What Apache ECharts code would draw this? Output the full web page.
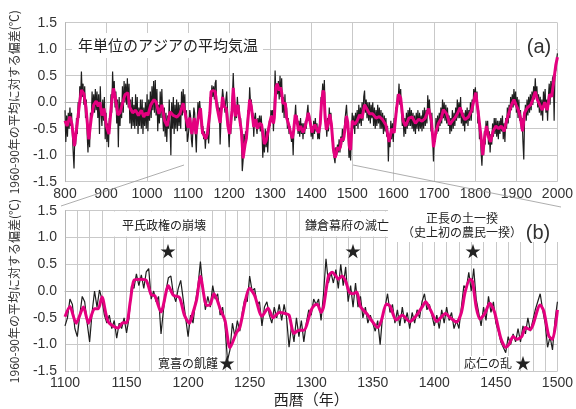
<!DOCTYPE html>
<html><head><meta charset="utf-8">
<script src="https://cdn.jsdelivr.net/npm/echarts@6/dist/echarts.min.js"></script>
<style>html,body{margin:0;padding:0;background:#fff}#c{width:576px;height:409px}</style>
</head><body><div id="c"></div>
<script>
// Annual (2-year sampled) anomaly series, 800–2000
const annualStartYear = 800;
const annualStepYears = 2;
const annualValues = [
-0.15,-0.75,-0.25,-0.65,-0.2, -0.5,-0.1,-0.45,-0.2,-0.6, -0.95,-1.25,-0.6,-0.8,-0.3, -0.6,0.0,-0.3,0.3,0.05, 0.58,0.1,0.35,-0.05,0.3, -0.3,0.05,-0.6,-0.95,-0.45, -0.85,-0.2,-0.4,0.2,-0.2, 0.15,-0.2,0.25,-0.15,0.2, -0.3,0.15,-0.6,0.3,-0.2, -0.45,0.05,-0.35,0.1,-0.7,
-0.2,-0.75,-0.4,-0.85,-0.3, -0.5,0.15,-0.2,0.58,0.1, 0.4,-0.1,0.2,-0.4,0.05, -0.85,0.1,-0.45,0.0,-0.3, 0.3,-0.2,0.4,0.0,0.35, -0.05,0.45,-0.1,0.35,-0.4, 0.05,-0.5,0.1,-0.45,-0.05, -0.5,0.15,-0.45,0.1,-0.6, -0.1,-0.45,0.05,-0.5,0.05, -0.6,-0.1,-0.45,0.0,-0.5,
0.15,-0.55,0.05,-0.35,0.2, -0.3,0.3,-0.15,0.4,-0.2, 0.42,-0.25,0.25,-0.55,-0.05, -0.4,0.2,-0.3,0.25,-0.25, -0.55,-0.1,-0.65,-0.2,-0.75, -0.25,-0.5,0.05,-0.45,-1.0, 0.0,-0.5,0.1,-0.6,-0.05, -0.5,0.05,-0.55,0.0,-0.45, -0.05,-0.5,0.2,-0.25,0.25, -0.2,0.15,-0.55,-0.15,-0.75,
-0.65,-0.5,-0.15,-0.25,-0.7, -0.85,-0.45,-0.1,-0.2,-0.6, -0.95,-0.4,0.0,-0.3,0.02, -0.15,-0.45,-0.6,-0.45,-0.7, -0.55,-0.88,-0.6,-0.7,-0.5, -0.78,-0.5,0.1,0.05,0.32, 0.1,0.3,0.05,0.36,0.42, -0.15,0.0,-0.2,-0.1,-0.8, -0.35,0.0,0.25,0.28,-0.05, -0.2,0.05,0.2,-0.15,-0.5,
-0.85,-0.45,-0.6,-0.2,0.1, 0.55,0.05,-0.35,-0.1,-0.3, 0.1,-0.15,-0.05,-0.45,-0.3, -0.65,-1.3,-1.1,-0.6,-0.85, -0.55,-0.75,-0.4,-0.15,-0.2, 0.28,0.0,0.05,-0.25,-0.2, -0.65,-0.3,-0.2,-0.45,-0.6, -0.3,-0.5,-0.25,-0.55,-0.25, -0.5,-1.05,-0.65,-0.95,-0.5, -0.85,-0.55,-0.95,-0.6,-0.35,
-0.45,-0.15,-0.25,-0.15,-0.55, -0.05,0.6,0.15,0.35,0.15, 0.4,0.05,0.5,0.1,0.45, -0.2,0.1,-0.3,0.15,-0.3, -0.1,-0.5,-0.3,-0.6,-0.45, -0.6,-0.75,-0.55,-1.0,-0.45, -0.3,-0.05,-0.4,-0.25,-0.6, -0.35,-0.65,-0.3,-0.6,-0.4, -0.7,-0.4,-0.6,-0.35,-0.5, -0.2,-0.05,-0.35,-0.25,-0.45,
-0.65,-0.45,-0.7,-0.35,-0.6, -0.3,-0.55,-0.4,-0.7,-0.55, -0.7,-0.3,0.1,0.05,0.35, 0.0,0.42,-0.15,-0.4,-0.65, -0.3,-0.55,-0.1,-0.4,-0.2, -0.6,-0.75,-0.95,-1.05,-1.15, -0.85,-1.0,-0.8,-0.95,-0.7, -0.95,-0.65,-0.8,-0.5,-0.75, -0.55,-0.35,-0.2,-0.05,-0.35, -0.6,-1.05,-0.85,-1.1,-0.55,
-0.2,-0.5,-0.25,-0.6,-0.2, -0.45,-0.15,-0.5,-0.05,-0.4, -0.1,-0.45,0.0,-0.35,0.1, 0.22,-0.2,0.05,-0.3,0.0, -0.35,0.0,-0.4,-0.05,-0.3, 0.0,-0.45,-0.1,-0.5,-0.15, -0.45,-0.05,-0.4,-0.1,-0.5, -0.15,-0.5,-0.2,-0.6,-0.25, -0.55,-0.3,-0.65,-0.45,-1.12, -0.6,-0.85,-0.35,-0.7,-0.4,
-0.75,-0.3,-0.55,-0.1,-0.2, 0.15,0.05,0.35,-0.05,0.25, -0.2,-0.45,-0.25,-0.65,-0.3, -0.6,-0.2,-0.5,-0.15,-0.45, -0.1,-0.45,-0.15,-0.5,-0.2, -0.55,-0.25,-0.6,-0.2,-0.5, -0.15,-0.55,-0.2,-0.5,-0.25, -0.55,-0.15,-0.5,-0.1,-0.45, -0.15,-0.4,0.13,-0.2,0.05, -0.3,-0.55,-0.2,-0.7,-1.12,
-0.6,-0.75,-0.3,-0.6,-0.25, -0.55,-0.2,-0.45,-0.1,-0.4, 0.05,-0.3,0.0,-0.35,-0.05, -0.4,-0.1,-0.45,-0.25,-0.6, -0.3,-0.55,-0.15,-0.5,-0.2, -0.45,-0.1,-0.35,0.05,-0.3, 0.0,-0.3,0.1,-0.4,-0.15, -0.45,-0.2,-0.55,-0.15,-0.4, -0.1,-0.45,-0.15,-0.35,0.0, -0.35,0.05,-0.2,0.25,0.05,
0.28,0.0,0.2,-0.4,-0.15, -0.7,-0.45,-0.95,-1.2,-0.8, -1.0,-0.55,-0.8,-0.35,-0.6, -0.35,-0.8,-0.55,-0.95,-0.6, -0.8,-0.4,-0.65,-0.3,-0.6, -0.3,-0.65,-0.35,-0.7,-0.35, -0.6,-0.3,-0.55,-0.25,-0.7, -0.4,-0.75,-0.3,-0.5,-0.1, -0.4,-0.05,-0.3,0.1,-0.15, 0.15,-0.1,0.25,-0.05,0.2,
-0.2,0.1,-0.3,0.05,-0.35, -0.15,-0.5,-0.3,-0.75,-1.08, -0.3,-0.05,-0.35,0.05,-0.25, 0.1,-0.2,0.15,-0.15,0.2, -0.05,0.3,0.05,0.45,0.1, 0.3,-0.1,0.15,-0.2,0.1, -0.25,0.05,-0.35,0.2,-0.1, 0.25,-0.2,0.05,-0.35,0.1, 0.35,-0.05,0.4,0.1,0.45, 0.5,-0.35,0.55,0.6,0.8,
0.92
];

// Smoothed (magenta) series key years and values
const smoothYears = [
800,805,812,817,823,829,835,840,846,851,858,864,870,876,881,885,890,895,901,907,913,918,923,929,934,941,946,953,958,965,972,979,986,992,997,
1002,1009,1017,1022,1029,1036,1043,1049,1056,1064,1073,1080,1088,1095,1100,
1104,1109,1115,1119,1124,1127,1130,1135,1143,1147,1150,1153,1156,1161,1166,1170,1173,1178,1184,1188,1193,1197,
1201,1204,1207,1210,1215,1218,1221,1227,1230,1234,1239,1242,1250,1254,1260,1265,1269,1274,1279,1282,1286,1290,1294,
1300,1303,1305,1308,1310,1314,1317,1320,1322,1325,1328,1331,1334,1337,1340,1345,1349,1354,1357,1361,1364,1369,1374,1380,1385,1390,1393,1397,
1402,1405,1409,1413,1418,1422,1425,1429,1431,1434,1437,1441,1445,1449,1454,1458,1461,1464,1467,1471,1474,1478,1480,1486,1489,1493,1496,
1500,1506,1512,1518,1524,1530,1535,1542,1550,1558,1566,1574,1582,1590,1596,
1602,1608,1613,1618,1624,1630,1638,1646,1654,1662,1670,1678,1686,1693,1698,
1704,1710,1717,1722,1730,1738,1744,1750,1756,1763,1769,1775,1783,1791,
1801,1807,1813,1818,1822,1827,1832,1837,1843,1850,1857,1863,1870,1876,1882,1888,1894,1899,
1905,1910,1915,1920,1927,1935,1940,1946,1951,1957,1963,1969,1975,1981,1986,1991,1996,2000
];
const smoothValues = [
-0.35,-0.45,-0.27,-0.42,-0.83,-0.45,-0.05,0.23,0.16,-0.1,-0.7,-0.3,-0.05,0.02,-0.08,0.0,-0.25,-0.12,-0.45,-0.6,-0.05,0.26,0.07,-0.24,-0.2,0.0,0.14,0.18,-0.1,-0.2,-0.15,-0.25,-0.15,-0.28,-0.2,
-0.25,-0.05,0.05,0.0,-0.22,-0.05,-0.35,-0.45,-0.18,-0.25,-0.28,-0.22,-0.02,-0.3,-0.48,
-0.29,-0.6,-0.3,-0.6,-0.33,-0.33,-0.11,-0.57,-0.69,-0.59,-0.59,-0.2,0.2,0.22,0.2,-0.07,-0.09,-0.39,0.1,-0.08,-0.12,-0.45,
-0.6,-0.4,-0.15,0.27,-0.27,-0.25,-0.05,-0.39,-0.55,-1.06,-0.79,-0.68,0.05,-0.08,-0.47,-0.32,-0.5,-0.4,-0.42,-0.45,-0.79,-0.73,-0.73,
-0.35,-0.26,-0.25,-0.4,-0.3,0.28,0.35,0.28,0.22,0.28,0.18,-0.02,-0.05,-0.02,-0.29,-0.42,-0.55,-0.68,-0.55,-0.24,-0.28,-0.54,-0.45,-0.57,-0.47,-0.3,-0.2,-0.36,
-0.57,-0.5,-0.42,-0.5,-0.58,-0.4,-0.02,0.22,0.18,-0.3,-0.52,-0.42,-0.23,-0.4,-0.88,-1.05,-0.98,-0.85,-0.9,-0.85,-0.68,-0.72,-0.64,-0.26,-0.38,-0.84,-0.9,
-0.35,-0.42,-0.35,-0.24,-0.3,-0.05,-0.12,-0.22,-0.22,-0.3,-0.27,-0.33,-0.43,-0.75,-0.5,
-0.58,-0.12,0.15,0.08,-0.35,-0.45,-0.3,-0.28,-0.4,-0.32,-0.36,-0.3,-0.12,-0.35,-0.85,
-0.55,-0.4,-0.3,-0.14,-0.22,-0.42,-0.35,-0.3,-0.22,-0.1,-0.25,-0.33,-0.28,-0.15,
0.18,-0.2,-0.6,-1.0,-0.7,-0.45,-0.65,-0.75,-0.55,-0.45,-0.5,-0.45,-0.55,-0.35,-0.2,-0.05,0.05,-0.05,
-0.15,-0.3,-0.55,-0.2,-0.1,-0.05,0.05,0.2,0.05,-0.05,-0.15,0.0,-0.15,0.15,0.1,0.4,0.7,0.85
];

const yAxisTitle = '1960-90年の平均に対する偏差(℃)';
const titleA = '年単位のアジアの平均気温';
const eventsTop = ['平氏政権の崩壊', '鎌倉幕府の滅亡', '正長の土一揆', '（史上初の農民一揆）'];
const eventsBottom = ['寛喜の飢饉', '応仁の乱'];
const xAxisTitleB = '西暦（年）';

const annualYears = annualValues.map((v, i) => annualStartYear + i * annualStepYears);
const annualPairs = annualValues.map((v, i) => [annualYears[i], v]);
const smoothPairs = smoothValues.map((v, i) => [smoothYears[i], v]);
const annualB = annualPairs.filter(p => p[0] >= 1100 && p[0] <= 1500);
const smoothB = smoothPairs.filter(p => p[0] >= 1097 && p[0] <= 1503);

const FONT = "'Liberation Sans','Noto Sans CJK JP',sans-serif";
const JP = "'Noto Sans CJK JP','Liberation Sans',sans-serif";
const GRID = '#c9c9c9';
const BLACK = '#1e1e1e';
const MAGENTA = '#e4007f';

function yAxisCfg(gi) {
  return {
    type: 'value', gridIndex: gi, min: -1.5, max: 1.5, interval: 0.5,
    axisLine: {show: true, lineStyle: {color: '#b5b5b5'}},
    axisTick: {show: false},
    axisLabel: {fontFamily: FONT, fontSize: 14, color: '#333', margin: 8, formatter: v => v.toFixed(1)},
    splitLine: {show: true, lineStyle: {color: GRID, width: 1}},
    name: yAxisTitle, nameLocation: 'middle', nameGap: 45, nameRotate: 90,
    nameTextStyle: {fontFamily: JP, fontSize: 12, color: '#333'}
  };
}

const chart = echarts.init(document.getElementById('c'), null, {renderer: 'canvas'});
chart.setOption({
  animation: false,
  backgroundColor: '#fff',
  grid: [
    {left: 62.7, top: 22.7, width: 498.3, height: 159},
    {left: 62.7, top: 210.7, width: 498.3, height: 160.7}
  ],
  xAxis: [
    {type: 'value', gridIndex: 0, min: 800, max: 2000, interval: 100,
     axisLine: {show: true, lineStyle: {color: '#b5b5b5'}}, axisTick: {show: false},
     axisLabel: {fontFamily: FONT, fontSize: 14, color: '#333', margin: 5, formatter: v => String(v)},
     splitLine: {show: true, lineStyle: {color: GRID, width: 1}}},
    {type: 'value', gridIndex: 1, min: 1100, max: 1500, interval: 50,
     axisLine: {show: true, lineStyle: {color: '#b5b5b5'}}, axisTick: {show: false},
     axisLabel: {fontFamily: FONT, fontSize: 14, color: '#333', margin: 5, formatter: v => String(v)},
     splitLine: {show: true, lineStyle: {color: GRID, width: 1}},
     minorTick: {show: false, splitNumber: 5},
     minorSplitLine: {show: true, lineStyle: {color: GRID, width: 1}},
     name: xAxisTitleB, nameLocation: 'middle', nameGap: 20,
     nameTextStyle: {fontFamily: JP, fontSize: 15, color: '#222'}}
  ],
  yAxis: [yAxisCfg(0), yAxisCfg(1)],
  series: [
    {type: 'line', xAxisIndex: 0, yAxisIndex: 0, data: annualPairs, symbol: 'none', clip: true,
     lineStyle: {color: BLACK, width: 1.2}, z: 3},
    {type: 'line', xAxisIndex: 0, yAxisIndex: 0, data: smoothPairs, symbol: 'none', clip: true,
     lineStyle: {color: MAGENTA, width: 3}, z: 4},
    {type: 'line', xAxisIndex: 1, yAxisIndex: 1, data: annualB, symbol: 'none', clip: true,
     lineStyle: {color: BLACK, width: 1.2}, z: 3},
    {type: 'line', xAxisIndex: 1, yAxisIndex: 1, data: smoothB, symbol: 'none', clip: true, smooth: 0.25,
     lineStyle: {color: MAGENTA, width: 3}, z: 4}
  ],
  graphic: [
    {type: 'line', z: 5, shape: {x1: 184, y1: 165, x2: 61, y2: 206}, style: {stroke: '#999', lineWidth: 0.8}},
    {type: 'line', z: 5, shape: {x1: 353, y1: 165, x2: 561, y2: 207}, style: {stroke: '#999', lineWidth: 0.8}},
    {type: 'rect', z: 1, shape: {x: 72, y: 33, width: 191, height: 25}, style: {fill: '#fff'}},
    {type: 'rect', z: 1, shape: {x: 520, y: 35, width: 36, height: 24}, style: {fill: '#fff'}},
    {type: 'rect', z: 1, shape: {x: 114, y: 211.5, width: 97, height: 25}, style: {fill: '#fff'}},
    {type: 'rect', z: 1, shape: {x: 301, y: 211.5, width: 85, height: 25}, style: {fill: '#fff'}},
    {type: 'rect', z: 6, shape: {x: 388, y: 207, width: 171, height: 35}, style: {fill: '#fff'}},
    {type: 'text', z: 7, style: {text: titleA, x: 168, y: 45, textAlign: 'center', textVerticalAlign: 'middle', align: 'center', verticalAlign: 'middle', font: '15px ' + JP, fill: '#222'}},
    {type: 'text', z: 7, style: {text: '(a)', x: 539, y: 47, textAlign: 'center', textVerticalAlign: 'middle', align: 'center', verticalAlign: 'middle', font: '20px ' + FONT, fill: '#333'}},
    {type: 'text', z: 7, style: {text: eventsTop[0], x: 164, y: 225, textAlign: 'center', textVerticalAlign: 'middle', align: 'center', verticalAlign: 'middle', font: '12px ' + JP, fill: '#222'}},
    {type: 'text', z: 7, style: {text: eventsTop[1], x: 347, y: 225, textAlign: 'center', textVerticalAlign: 'middle', align: 'center', verticalAlign: 'middle', font: '12px ' + JP, fill: '#222'}},
    {type: 'text', z: 7, style: {text: eventsTop[2], x: 462, y: 218, textAlign: 'center', textVerticalAlign: 'middle', align: 'center', verticalAlign: 'middle', font: '12px ' + JP, fill: '#222'}},
    {type: 'text', z: 7, style: {text: eventsTop[3], x: 462, y: 232, textAlign: 'center', textVerticalAlign: 'middle', align: 'center', verticalAlign: 'middle', font: '12px ' + JP, fill: '#222'}},
    {type: 'text', z: 7, style: {text: '(b)', x: 538, y: 233, textAlign: 'center', textVerticalAlign: 'middle', align: 'center', verticalAlign: 'middle', font: '20px ' + FONT, fill: '#333'}},
    {type: 'text', z: 7, style: {text: '★', x: 168, y: 251, textAlign: 'center', textVerticalAlign: 'middle', align: 'center', verticalAlign: 'middle', font: '16px ' + JP, fill: '#222'}},
    {type: 'text', z: 7, style: {text: '★', x: 353, y: 251, textAlign: 'center', textVerticalAlign: 'middle', align: 'center', verticalAlign: 'middle', font: '16px ' + JP, fill: '#222'}},
    {type: 'text', z: 7, style: {text: '★', x: 473, y: 251, textAlign: 'center', textVerticalAlign: 'middle', align: 'center', verticalAlign: 'middle', font: '16px ' + JP, fill: '#222'}},
    {type: 'text', z: 7, style: {text: eventsBottom[0], x: 188, y: 363, textAlign: 'center', textVerticalAlign: 'middle', align: 'center', verticalAlign: 'middle', font: '12px ' + JP, fill: '#222', backgroundColor: '#fff', padding: [1, 2]}},
    {type: 'text', z: 7, style: {text: '★', x: 227, y: 363, textAlign: 'center', textVerticalAlign: 'middle', align: 'center', verticalAlign: 'middle', font: '16px ' + JP, fill: '#222'}},
    {type: 'text', z: 7, style: {text: eventsBottom[1], x: 488, y: 363, textAlign: 'center', textVerticalAlign: 'middle', align: 'center', verticalAlign: 'middle', font: '12px ' + JP, fill: '#222', backgroundColor: '#fff', padding: [1, 2]}},
    {type: 'text', z: 7, style: {text: '★', x: 523, y: 363, textAlign: 'center', textVerticalAlign: 'middle', align: 'center', verticalAlign: 'middle', font: '16px ' + JP, fill: '#222'}}
  ]
});
</script>
</body></html>
